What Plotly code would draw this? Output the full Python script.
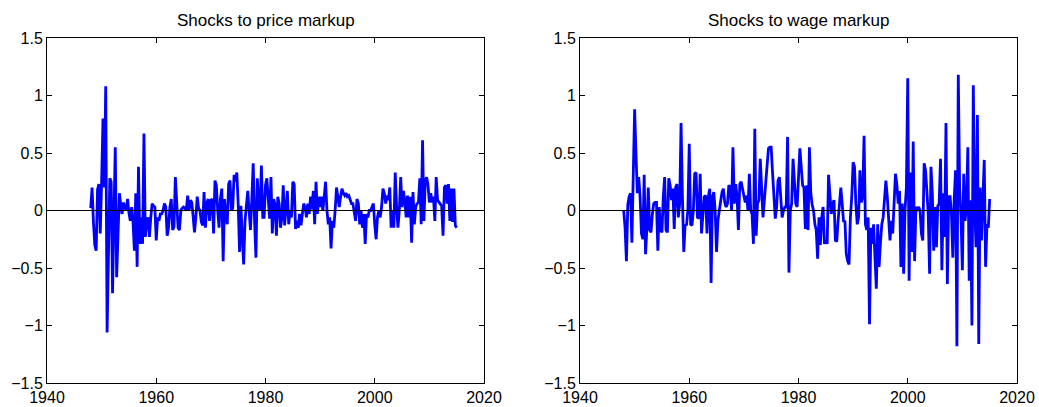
import plotly.graph_objects as go

# ---------------- data (quarterly, starting 1948Q1) ----------------
start_year = 1948.0

price_markup = [
    0.02, 0.20, -0.10, -0.30, -0.35, 0.18, 0.23, -0.20, 0.25, 0.80,
    0.20, 1.08, -1.06, -0.30, 0.28, 0.25, -0.72, -0.05, 0.55, -0.58,
    -0.10, 0.15, 0.05, -0.03, 0.07, 0.02, 0.01, 0.10, -0.02, -0.09,
    0.03, -0.10, -0.35, 0.15, -0.49, 0.38, -0.29, -0.06, -0.29, 0.67,
    -0.23, -0.10, -0.06, -0.23, -0.06, 0.06, 0.04, 0.03, -0.26, -0.06,
    -0.09, -0.03, -0.03, 0.00, 0.06, 0.03, -0.22, -0.15, 0.03, 0.10,
    -0.17, -0.14, 0.29, 0.00, -0.15, -0.17, 0.00, 0.02, 0.03,
    0.02, 0.00, 0.13, 0.00, 0.09, 0.07, -0.05, -0.19, -0.06, 0.12,
    0.02, 0.00, -0.10, -0.13, 0.16, -0.15, 0.06, 0.10, -0.09, 0.09,
    0.10, -0.20, 0.26, 0.22, 0.00, -0.15, 0.10, 0.19, -0.44, 0.10,
    -0.05, -0.12, 0.23, 0.26, 0.00, 0.02, 0.31, 0.25, 0.33, 0.06,
    -0.36, 0.04, -0.23, -0.47, -0.09, 0.05, 0.17, 0.00, -0.17, 0.10,
    0.41, -0.09, -0.41, 0.28, 0.05, 0.00, 0.39, -0.06, -0.06, 0.22,
    0.28, 0.10, -0.07, 0.29, -0.20, 0.10, 0.05, -0.22, 0.12, 0.06,
    -0.15, -0.06, 0.22, -0.13, 0.06, 0.17, -0.12, 0.00, -0.06, 0.25,
    0.23, -0.16, -0.09, -0.15, -0.03, -0.13, -0.03, 0.06, 0.03, -0.06,
    0.06, -0.03, 0.12, 0.01, 0.17, -0.12, 0.25, -0.03, 0.12, 0.03,
    0.12, 0.00, 0.12, 0.25, 0.00, -0.12, -0.06, -0.33, -0.09,
    -0.15, 0.00, 0.20, 0.12, 0.03, 0.12, 0.19, 0.15, 0.13, 0.15,
    0.12, 0.13, 0.09, 0.06, 0.06, 0.00, -0.09, 0.10, 0.06, -0.12,
    0.00, -0.15, -0.03, -0.29, -0.03, -0.06, 0.00, 0.00, 0.03, 0.06,
    -0.12, -0.25, -0.06, 0.00, -0.06, 0.03, 0.19,
    0.15, 0.06, 0.13, 0.09, 0.20, -0.15, 0.00, -0.15, 0.33, 0.03,
    -0.15, 0.00, 0.29, 0.03, 0.17, 0.09, -0.06, 0.13, -0.06, 0.12,
    -0.28, 0.16, -0.12, 0.03, 0.06, 0.07, 0.28, -0.12, 0.61,
    -0.09, 0.26, 0.29, 0.22, 0.07, 0.15, 0.07, 0.12, -0.09, 0.29,
    0.09, 0.07, 0.06, 0.04, -0.22, 0.20, 0.22, 0.06, 0.23, -0.09,
    0.19, -0.10, 0.19, -0.13, -0.15,
]

wage_markup = [
    0.00, -0.15, -0.44, 0.05, 0.12, 0.15, -0.28, 0.32, 0.88, 0.49,
    0.15, 0.29, 0.12, -0.20, -0.25, 0.31, -0.38, -0.15, 0.20, -0.17,
    -0.19, -0.03, 0.06, 0.07, 0.07, -0.35, 0.03, -0.17, -0.19, 0.12,
    0.29, -0.17, -0.19, 0.28, 0.22, 0.09, 0.19, -0.16, 0.20, 0.23,
    -0.06, 0.06, 0.76, 0.12, -0.36, -0.12, -0.13, 0.00, 0.58, -0.12,
    -0.13, 0.00, 0.32, 0.33, -0.06, -0.07, 0.32, -0.20, -0.06, 0.12,
    0.13, -0.20, 0.12, 0.19, -0.63, 0.12, 0.16, -0.01, -0.36, -0.09,
    0.00, 0.10, 0.16, 0.19, 0.07, 0.03, 0.06, 0.22, 0.20, 0.00,
    0.55, 0.06, 0.23, 0.12, -0.17, 0.23, 0.25, 0.19, 0.12, 0.07,
    0.13, 0.00, 0.32, 0.00, -0.03, -0.29, 0.71, -0.22, 0.06, 0.09,
    0.45, 0.17, -0.06, 0.09, 0.26, 0.41, 0.54, 0.55, 0.55, 0.33,
    0.10, -0.07, 0.03, 0.26, 0.29, 0.09, -0.06, 0.00, 0.03, 0.03,
    0.64, -0.54, 0.00, 0.06, 0.45, 0.26, 0.06, 0.03, 0.29, 0.54,
    0.38, 0.22, 0.20, -0.16, 0.22, -0.17, 0.55, 0.15, 0.05,
    0.00, -0.12, -0.17, -0.42, -0.06, -0.30, -0.06, 0.03, -0.29, -0.26, -0.29,
    0.31, 0.09, -0.03, 0.06, 0.09, -0.26, -0.27, -0.09, 0.06, 0.20,
    0.06, -0.10, -0.09, -0.38, -0.44, -0.47, -0.06, 0.12, 0.42, 0.38,
    0.06, -0.12, -0.06, 0.35, 0.07, 0.12, 0.65, -0.12, -0.17, -0.06,
    -0.99, -0.15, -0.29, -0.12, -0.41, -0.68, -0.12, -0.49, -0.28, -0.12,
    -0.06, 0.09, 0.26, 0.12, -0.12, -0.26, -0.09, -0.20, 0.06, 0.32,
    0.23, 0.06, 0.17, -0.49, 0.06, -0.55, 0.00, 0.20, 1.15, -0.61,
    0.33, -0.36, 0.60, -0.44,
    0.03, 0.01, 0.03, 0.00, -0.20, -0.26, 0.41, 0.35, 0.17, -0.03,
    -0.55, 0.38, 0.15, -0.35, 0.03, -0.32, 0.04, 0.06, 0.45, -0.52,
    0.15, -0.23, 0.76, -0.64, 0.12, 0.12, -0.03, -0.41, 0.09, 0.35,
    -1.18, 1.18, 0.20, -0.06, -0.52, 0.32, -0.09, 0.03, 0.55, -0.61,
    0.09, -1.00, 1.09, 0.03, -0.32, 0.83, -1.16, 0.20, -0.26, 0.17,
    0.44, -0.49, -0.12, -0.15, 0.10,
]

titles = ["Shocks to price markup", "Shocks to wage markup"]
x_ticks = [1940, 1960, 1980, 2000, 2020]
y_ticks = [-1.5, -1, -0.5, 0, 0.5, 1, 1.5]
y_tick_text = ["\u22121.5", "\u22121", "\u22120.5", "0", "0.5", "1", "1.5"]

def quarters(n):
    return [start_year + i / 4 for i in range(n)]

# ---------------- figure ----------------
FONT = "Liberation Sans, Arial, Helvetica, sans-serif"
W, H = 1039, 407
ml, mr, mt, mb = 47, 22, 38, 24
pw = W - ml - mr
axw = 437
d1 = [0, axw / pw]
d2 = [1 - axw / pw, 1]

fig = go.Figure()
for i, series in enumerate([price_markup, wage_markup]):
    suffix = "" if i == 0 else "2"
    fig.add_trace(go.Scatter(
        x=quarters(len(series)), y=series, mode="lines",
        line=dict(color="#0000FF", width=2.8),
        xaxis="x" + suffix, yaxis="y" + suffix, showlegend=False,
        hoverinfo="x+y",
    ))

axis_common = dict(
    showgrid=False, zeroline=False, showline=True, linecolor="black",
    linewidth=1, mirror="ticks", ticks="inside", ticklen=5, tickwidth=1,
    tickcolor="black", automargin=False,
    tickfont=dict(family=FONT, size=16, color="black"),
)

fig.update_layout(
    template="none",
    width=W, height=H,
    margin=dict(l=ml, r=mr, t=mt, b=mb, pad=0, autoexpand=False),
    paper_bgcolor="white", plot_bgcolor="white",
    font=dict(family=FONT, color="black"),
    xaxis=dict(domain=d1, range=[1940, 2020], tickvals=x_ticks, anchor="y", **axis_common),
    yaxis=dict(domain=[0, 1], range=[-1.5, 1.5], tickvals=y_ticks, ticktext=y_tick_text,
               anchor="x", **axis_common),
    xaxis2=dict(domain=d2, range=[1940, 2020], tickvals=x_ticks, anchor="y2", **axis_common),
    yaxis2=dict(domain=[0, 1], range=[-1.5, 1.5], tickvals=y_ticks, ticktext=y_tick_text,
                anchor="x2", **axis_common),
)

for i, t in enumerate(titles):
    dom = d1 if i == 0 else d2
    fig.add_annotation(
        text=t, xref="paper", yref="paper", x=(dom[0] + dom[1]) / 2, y=1,
        xanchor="center", yanchor="bottom", yshift=6, showarrow=False,
        font=dict(family=FONT, size=17, color="black"),
    )
    suffix = "" if i == 0 else "2"
    fig.add_shape(
        type="line", xref="x" + suffix + " domain", yref="y" + suffix,
        x0=0, x1=1, y0=0, y1=0, line=dict(color="black", width=1), layer="above",
    )

fig.write_html(
    "out.html",
    config={"displayModeBar": False},
    post_script="document.body.style.margin='0';document.body.style.overflow='hidden';",
)
